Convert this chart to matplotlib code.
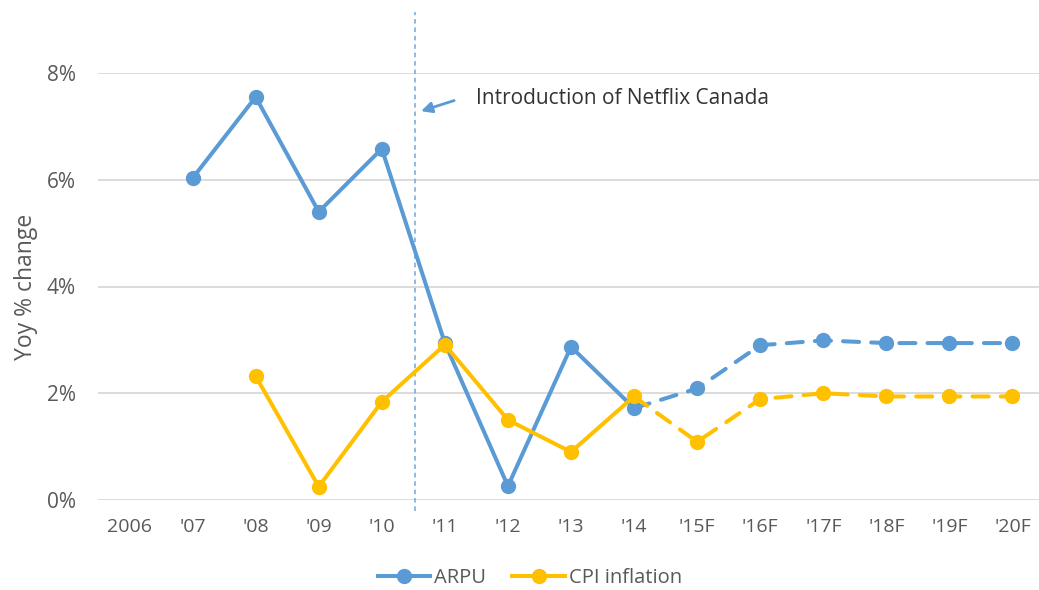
import numpy as np
import matplotlib.pyplot as plt
from matplotlib.lines import Line2D

# --- Daten ---
years = ["2006", "'07", "'08", "'09", "'10", "'11", "'12", "'13", "'14",
         "'15F", "'16F", "'17F", "'18F", "'19F", "'20F"]
arpu = [np.nan, 6.03, 7.55, 5.40, 6.58, 2.94, 0.26, 2.87, 1.72,
        2.09, 2.90, 2.99, 2.94, 2.94, 2.94]
cpi = [np.nan, np.nan, 2.32, 0.25, 1.84, 2.91, 1.50, 0.90, 1.94,
       1.09, 1.89, 2.00, 1.94, 1.94, 1.94]
last_actual = 8  # '14 -> danach Prognose (gestrichelt)
netflix_pos = 4.52
yticks = [0, 2, 4, 6, 8]

BLUE = '#5B9BD5'
GOLD = '#FFC000'
GREY = '#595959'

plt.rcParams['font.family'] = ['Open Sans', 'DejaVu Sans']

fig = plt.figure(figsize=(10.39, 5.9), dpi=100)
ax = fig.add_axes([98 / 1039, 1 - 500 / 590, (1044 - 98) / 1039, (500 - 73) / 590])

x = np.arange(len(years))
for vals, col in [(arpu, BLUE), (cpi, GOLD)]:
    v = np.array(vals)
    ax.plot(x[:last_actual + 1], v[:last_actual + 1], color=col, lw=2.9,
            marker='o', markersize=10, solid_capstyle='round', zorder=3)
    ax.plot(x[last_actual:], v[last_actual:], color=col, lw=2.9,
            linestyle=(0, (4, 3)), dash_capstyle='round', zorder=3)
    ax.plot(x[last_actual + 1:], v[last_actual + 1:], color=col, lw=0,
            marker='o', markersize=10, zorder=4)

ax.set_xlim(-0.5, 14.5)
ax.set_ylim(0, 8)
ax.set_yticks(yticks)
ax.set_yticklabels([f'{t}%' for t in yticks])
ax.set_xticks(x)
ax.set_xticklabels(years)
ax.yaxis.grid(True, color='#D9D9D9', lw=1.3)
ax.set_axisbelow(True)
for s in ax.spines.values():
    s.set_visible(False)
ax.tick_params(axis='both', length=0, colors=GREY)
ax.tick_params(axis='x', pad=13, labelsize=14)
ax.tick_params(axis='y', pad=16, labelsize=15)
ax.set_ylabel('Yoy % change', fontsize=16.5, color=GREY, labelpad=6)

# Netflix-Markierung
ax.plot([netflix_pos, netflix_pos], [-0.2, 9.15], color='#6FA8DC', lw=1.1, ls=(0, (3, 2.5)),
        clip_on=False, zorder=2)
ax.annotate('', xy=(netflix_pos + 0.06, 7.27), xytext=(netflix_pos + 0.67, 7.5),
            arrowprops=dict(arrowstyle='-|>', color=BLUE, lw=2, mutation_scale=16))
ax.text(netflix_pos + 0.98, 7.52, 'Introduction of Netflix Canada', fontsize=15,
        color='#333333', va='center', ha='left')

handles = [Line2D([], [], color=BLUE, lw=2.9, marker='o', markersize=10),
           Line2D([], [], color=GOLD, lw=2.9, marker='o', markersize=10)]
fig.legend(handles, ['ARPU', 'CPI inflation'], loc='center', bbox_to_anchor=(0.51, 1 - 578 / 590),
           ncol=2, frameon=False, fontsize=14.5, labelcolor=GREY, handlelength=2.6,
           handletextpad=0.2, columnspacing=1.3)

fig.savefig('out.png', dpi=100)
